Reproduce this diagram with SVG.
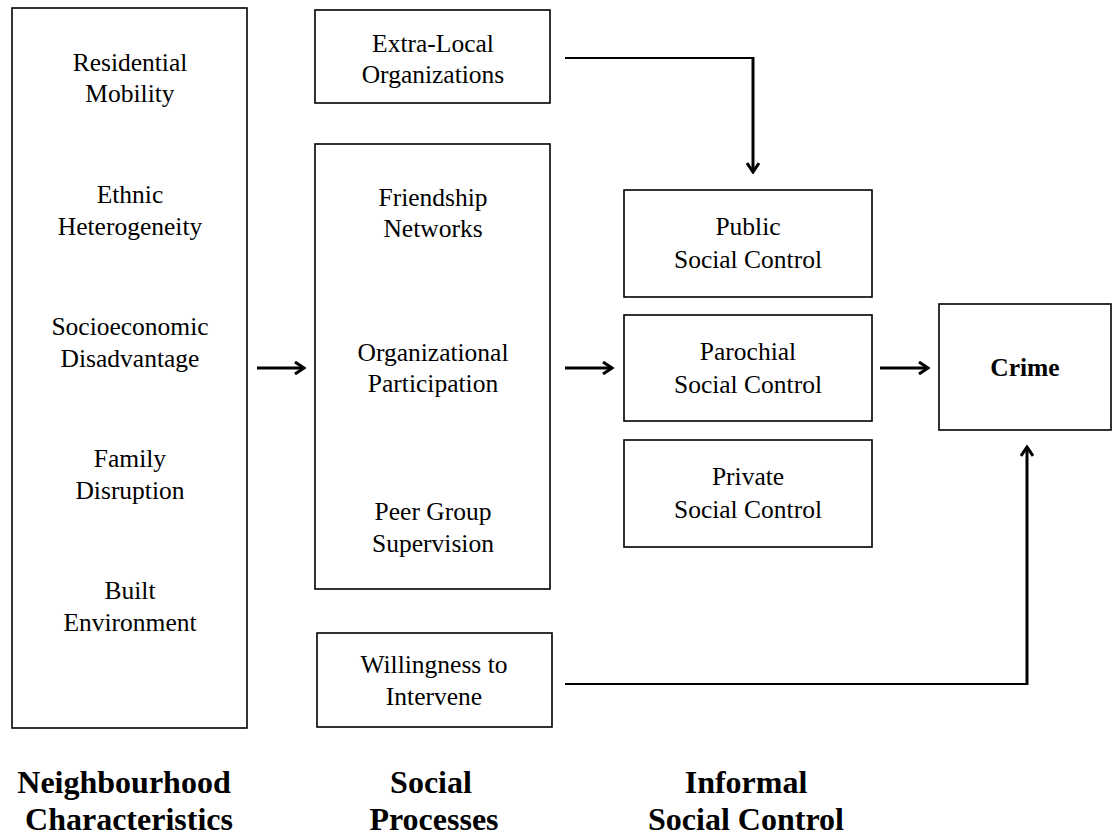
<svg xmlns="http://www.w3.org/2000/svg" width="1115" height="836" viewBox="0 0 1115 836">
<defs>
<style>
.box{fill:#fff;stroke:#000;stroke-width:1.6}
.t{font-family:"Liberation Serif","Times New Roman",serif;font-size:25.5px;fill:#000;text-anchor:middle}
.b{font-family:"Liberation Serif","Times New Roman",serif;font-weight:bold;fill:#000;text-anchor:middle}
.arr{fill:none;stroke:#000;stroke-width:3}
.con{fill:none;stroke:#000;stroke-width:2}
</style>
<marker id="ah" viewBox="0 0 12 14" refX="10" refY="7" markerWidth="12" markerHeight="14" markerUnits="userSpaceOnUse" orient="auto">
<path d="M1,1 L10,7 L1,13" fill="none" stroke="#000" stroke-width="3"/>
</marker>
</defs>

<g id="neighbourhood">
<rect class="box" x="12" y="8" width="235" height="720"/>
<text class="t" x="130" y="71">Residential</text>
<text class="t" x="130" y="102">Mobility</text>
<text class="t" x="130" y="203">Ethnic</text>
<text class="t" x="130" y="235">Heterogeneity</text>
<text class="t" x="130" y="335">Socioeconomic</text>
<text class="t" x="130" y="367">Disadvantage</text>
<text class="t" x="130" y="467">Family</text>
<text class="t" x="130" y="499">Disruption</text>
<text class="t" x="130" y="599">Built</text>
<text class="t" x="130" y="631">Environment</text>
</g>

<g id="extra-local">
<rect class="box" x="315" y="10" width="235" height="93"/>
<text class="t" x="433" y="52">Extra-Local</text>
<text class="t" x="433" y="83">Organizations</text>
</g>

<g id="social-processes">
<rect class="box" x="315" y="144" width="235" height="445"/>
<text class="t" x="433" y="206">Friendship</text>
<text class="t" x="433" y="237">Networks</text>
<text class="t" x="433" y="361">Organizational</text>
<text class="t" x="433" y="392">Participation</text>
<text class="t" x="433" y="520">Peer Group</text>
<text class="t" x="433" y="552">Supervision</text>
</g>

<g id="willingness">
<rect class="box" x="317" y="633" width="235" height="94"/>
<text class="t" x="434" y="673">Willingness to</text>
<text class="t" x="434" y="705">Intervene</text>
</g>

<g id="public">
<rect class="box" x="624" y="190" width="248" height="107"/>
<text class="t" x="748" y="235">Public</text>
<text class="t" x="748" y="268">Social Control</text>
</g>

<g id="parochial">
<rect class="box" x="624" y="315" width="248" height="106"/>
<text class="t" x="748" y="360">Parochial</text>
<text class="t" x="748" y="393">Social Control</text>
</g>

<g id="private">
<rect class="box" x="624" y="440" width="248" height="107"/>
<text class="t" x="748" y="485">Private</text>
<text class="t" x="748" y="518">Social Control</text>
</g>

<g id="crime">
<rect class="box" x="939" y="304" width="172" height="126"/>
<text class="b" x="1025" y="376" font-size="25.5">Crime</text>
</g>

<g id="connectors">
<line class="arr" x1="257" y1="368" x2="304" y2="368" marker-end="url(#ah)"/>
<line class="arr" x1="565" y1="368" x2="612" y2="368" marker-end="url(#ah)"/>
<line class="arr" x1="880" y1="368" x2="928" y2="368" marker-end="url(#ah)"/>
<path class="con" d="M565,58 H753"/>
<line class="arr" x1="753" y1="57" x2="753" y2="172" marker-end="url(#ah)"/>
<path class="con" d="M565,684 H1027"/>
<line class="arr" x1="1027" y1="685" x2="1027" y2="447" marker-end="url(#ah)"/>
</g>

<g id="labels">
<text class="b" x="124" y="793" font-size="32">Neighbourhood</text>
<text class="b" x="129" y="830" font-size="32">Characteristics</text>
<text class="b" x="431" y="793" font-size="32">Social</text>
<text class="b" x="434" y="830" font-size="32">Processes</text>
<text class="b" x="746" y="793" font-size="32">Informal</text>
<text class="b" x="746" y="830" font-size="32">Social Control</text>
</g>
</svg>
